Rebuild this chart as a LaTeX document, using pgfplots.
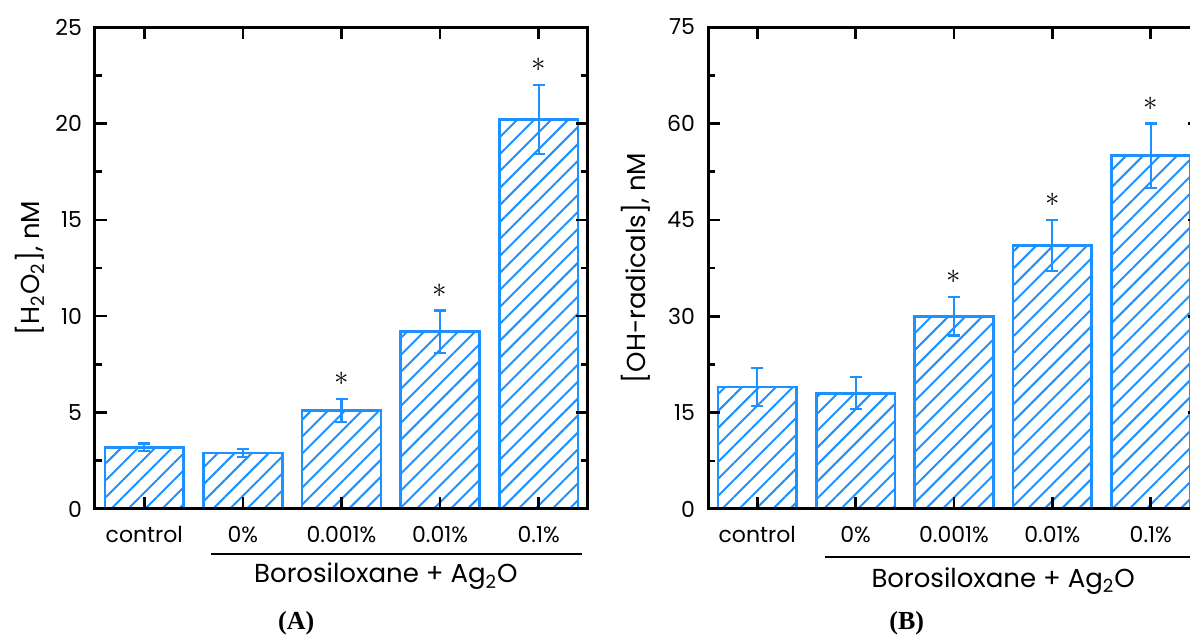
\documentclass[border=0pt]{standalone}
\usepackage{pgfplots}
\pgfplotsset{compat=1.18}
\usepackage{fontspec}
\setmainfont{Poppins}
\newfontfamily\serifbf{Liberation Serif}
\usetikzlibrary{patterns.meta}
\definecolor{barblue}{RGB}{30,144,255}

\tikzset{sigstar/.style={yshift=10pt, font=\fontsize{15}{17}\selectfont}}

\pgfplotsset{
  mystyle/.style={
    scale only axis, height=241pt,
    ybar, bar width=0.8, bar shift=0pt,
    xmin=-0.5, xmax=4.5, ymin=0,
    xtick={0,1,2,3,4},
    xticklabels={control, 0\%, 0.001\%, 0.01\%, 0.1\%},
    tick align=inside, axis on top,
    major tick length=6pt, minor tick length=3.3pt,
    minor y tick num=1,
    minor x tick num=0,
    axis line style={line width=1.5pt},
    every tick/.style={black, line width=1.3pt},
    tick label style={font=\fontsize{11}{13}\selectfont},
    /pgf/number format/assume math mode=true,
    yticklabel style={xshift=-3pt},
    xticklabel style={yshift=-5pt},
    clip=false,
    every axis y label/.style={rotate=90, anchor=center, font=\fontsize{13}{15}\selectfont},
  },
  barstyle/.style={
    draw=barblue, line width=1.3pt,
    pattern={Lines[angle=45,distance=6pt,line width=1pt]}, pattern color=barblue,
    error bars/.cd, y dir=both, y explicit,
    error bar style={barblue, line width=1.1pt},
    error mark options={barblue, rotate=90, mark size=3pt, line width=1.1pt},
  },
}

\begin{document}
\begin{tikzpicture}
\useasboundingbox (0,0) rectangle (595pt,318.5pt);
\clip (0,0) rectangle (595pt,318.5pt);

% Panel A
\begin{axis}[mystyle, at={(47.5pt,64pt)}, anchor=south west, width=246.5pt,
  ymax=25, ytick={0,5,10,15,20,25},
  ylabel={[H\textsubscript{2}O\textsubscript{2}], nM},
  ylabel style={at={(rel axis cs:-0.132,0.5)}}]
\addplot[barstyle] coordinates {
  (0,3.2) +- (0,0.2)
  (1,2.9) +- (0,0.2)
  (2,5.1) +- (0,0.6)
  (3,9.2) +- (0,1.1)
  (4,20.2) +- (0,1.8)
};
\node[sigstar] at (axis cs:2,5.7) {$\ast$};
\node[sigstar] at (axis cs:3,10.3) {$\ast$};
\node[sigstar] at (axis cs:4,22.0) {$\ast$};
\draw[line width=1.4pt] ([yshift=-22.5pt]axis cs:0.68,0) -- ([yshift=-22.5pt]axis cs:4.44,0);
\node[anchor=base, font=\fontsize{13}{15}\selectfont] at ([yshift=-37pt]axis cs:2.45,0) {Borosiloxane + Ag\textsubscript{2}O};
\node[anchor=base, font=\fontsize{13}{15}\serifbf\bfseries] at ([yshift=-60pt]axis cs:1.54,0) {(A)};
\end{axis}

% Panel B
\begin{axis}[mystyle, at={(354pt,64pt)}, anchor=south west, width=246pt,
  ymax=75, ytick={0,15,30,45,60,75},
  ylabel={[OH-radicals], nM},
  ylabel style={at={(rel axis cs:-0.146,0.5)}}]
\addplot[barstyle] coordinates {
  (0,19) +- (0,3)
  (1,18) +- (0,2.5)
  (2,30) +- (0,3)
  (3,41) +- (0,4)
  (4,55) +- (0,5)
};
\node[sigstar] at (axis cs:2,33) {$\ast$};
\node[sigstar] at (axis cs:3,45) {$\ast$};
\node[sigstar] at (axis cs:4,60) {$\ast$};
\draw[line width=1.4pt] ([yshift=-24pt]axis cs:0.69,0) -- ([yshift=-24pt]axis cs:4.44,0);
\node[anchor=base, font=\fontsize{13}{15}\selectfont] at ([yshift=-39pt]axis cs:2.5,0) {Borosiloxane + Ag\textsubscript{2}O};
\node[anchor=base, font=\fontsize{13}{15}\serifbf\bfseries] at ([yshift=-60pt]axis cs:1.52,0) {(B)};
\end{axis}
\end{tikzpicture}
\end{document}
